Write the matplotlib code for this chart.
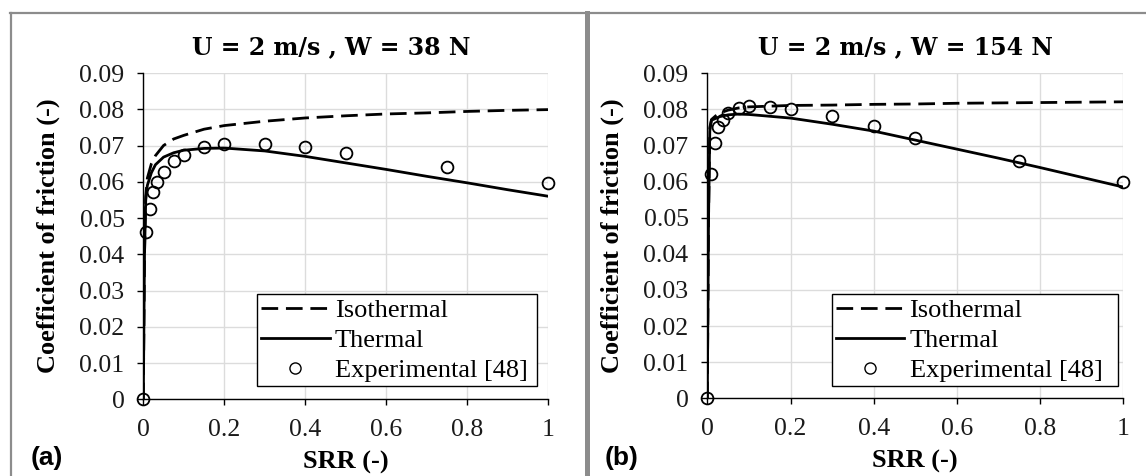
import matplotlib
matplotlib.use("Agg")
import matplotlib.pyplot as plt
from matplotlib.lines import Line2D

# ---------------- data ----------------
# Panel (a): U = 2 m/s, W = 38 N
a_curve_srr = [0, 0.003, 0.006, 0.01, 0.02, 0.03, 0.05, 0.075, 0.1, 0.15, 0.2,
               0.3, 0.4, 0.5, 0.6, 0.7, 0.8, 0.9, 1.0]
a_isothermal = [0, 0.040, 0.056, 0.061, 0.065, 0.0672, 0.0700, 0.0718, 0.0728,
                0.0745, 0.0755, 0.0767, 0.0776, 0.0782, 0.0787, 0.0790, 0.0794,
                0.0797, 0.0799]
a_thermal = [0, 0.040, 0.055, 0.059, 0.0625, 0.0647, 0.0668, 0.0680, 0.0687,
             0.0692, 0.0693, 0.0685, 0.0670, 0.0652, 0.0634, 0.0615, 0.0597,
             0.0578, 0.0560]
a_exp_srr = [0, 0.007, 0.016, 0.025, 0.034, 0.05, 0.075, 0.1, 0.15, 0.2, 0.3,
             0.4, 0.5, 0.75, 1.0]
a_exp_cof = [0, 0.0461, 0.0526, 0.0571, 0.0599, 0.0626, 0.0658, 0.0675, 0.0697,
             0.0705, 0.0703, 0.0696, 0.0680, 0.0641, 0.0597]

# Panel (b): U = 2 m/s, W = 154 N
b_curve_srr = [0, 0.003, 0.006, 0.01, 0.02, 0.03, 0.05, 0.075, 0.1, 0.15, 0.2,
               0.3, 0.4, 0.5, 0.6, 0.7, 0.8, 0.9, 1.0]
b_isothermal = [0, 0.050, 0.075, 0.0772, 0.0782, 0.0790, 0.0798, 0.0804, 0.0807,
                0.0809, 0.0811, 0.0812, 0.0814, 0.0815, 0.0817, 0.0818, 0.0819,
                0.0820, 0.0821]
b_thermal = [0, 0.050, 0.074, 0.0770, 0.0775, 0.0780, 0.0785, 0.0787, 0.0786,
             0.0781, 0.0776, 0.0759, 0.0740, 0.0715, 0.0690, 0.0665, 0.0639,
             0.0612, 0.0585]
b_exp_srr = [0, 0.009, 0.018, 0.026, 0.037, 0.05, 0.077, 0.1, 0.15, 0.2, 0.3,
             0.4, 0.5, 0.75, 1.0]
b_exp_cof = [0, 0.0621, 0.0708, 0.0752, 0.0771, 0.0789, 0.0803, 0.0809, 0.0808,
             0.0802, 0.0782, 0.0754, 0.0722, 0.0656, 0.0599]

titles = ["U = 2 m/s , W = 38 N", "U = 2 m/s , W = 154 N"]
panel_tags = ["(a)", "(b)"]
x_ticks = [0, 0.2, 0.4, 0.6, 0.8, 1.0]
x_ticklabels = ["0", "0.2", "0.4", "0.6", "0.8", "1"]
y_ticks = [0, 0.01, 0.02, 0.03, 0.04, 0.05, 0.06, 0.07, 0.08, 0.09]
y_ticklabels = ["0", "0.01", "0.02", "0.03", "0.04", "0.05", "0.06", "0.07",
                "0.08", "0.09"]
legend_labels = ["Isothermal", "Thermal", "Experimental [48]"]

# ---------------- figure ----------------
W, H = 1146, 476
fig = plt.figure(figsize=(W / 100, H / 100), dpi=100)

SERIF = "Liberation Serif"
FS_TICK = 18.5
FS_LAB = 19
FS_LEG = 19

def fx(px):
    return px / W

def fy(py):
    return 1 - py / H

axes_px = [(143.3, 73.0, 548.3, 399.3), (707.3, 73.3, 1123.3, 398.3)]
legend_px = [(0.281, 0.041, 0.692, 0.291), (0.299, 0.038, 0.688, 0.298)]
title_x = [331, 905]
title_y = 47
tag_x = [31, 605]

data = [
    (a_curve_srr, a_isothermal, a_thermal, a_exp_srr, a_exp_cof),
    (b_curve_srr, b_isothermal, b_thermal, b_exp_srr, b_exp_cof),
]

dash_pattern = (6.0, 2.8)

for i, (cs, iso, th, es, ec) in enumerate(data):
    x0, y0, x1, y1 = axes_px[i]
    ax = fig.add_axes([fx(x0), fy(y1), fx(x1) - fx(x0), (y1 - y0) / H])
    ax.set_xlim(0, 1)
    ax.set_ylim(0, 0.09)
    ax.grid(True, color="#dcdcdc", linewidth=1.0)
    ax.set_axisbelow(True)
    for s in ["top", "right"]:
        ax.spines[s].set_visible(False)
    for s in ["left", "bottom"]:
        ax.spines[s].set_color("black")
        ax.spines[s].set_linewidth(1.0)
    ax.set_xticks(x_ticks)
    ax.set_xticklabels(x_ticklabels, fontfamily=SERIF, fontsize=FS_TICK)
    ax.set_yticks(y_ticks)
    ax.set_yticklabels(y_ticklabels, fontfamily=SERIF, fontsize=FS_TICK)
    ax.tick_params(axis="both", direction="out", length=4.5, width=1.0,
                   color="black", labelcolor="#1a1a1a")
    ax.tick_params(axis="y", pad=9)
    ax.tick_params(axis="x", pad=10)

    ax.plot(cs, iso, color="black", linewidth=2.0, linestyle=(0, dash_pattern),
            zorder=3)
    ax.plot(cs, th, color="black", linewidth=2.0, zorder=3)
    ax.plot(es, ec, linestyle="none", marker="o", markersize=8.5,
            markerfacecolor="none", markeredgecolor="black",
            markeredgewidth=1.3, zorder=4, clip_on=False)

    ax.set_xlabel("SRR (-)", fontfamily=SERIF, fontweight="bold",
                  fontsize=FS_LAB, labelpad=7)
    ax.set_ylabel("Coefficient of friction (-)", fontfamily=SERIF,
                  fontweight="bold", fontsize=FS_LAB, labelpad=14)

    handles = [
        Line2D([], [], color="black", linewidth=2.0, linestyle=(0, dash_pattern)),
        Line2D([], [], color="black", linewidth=2.0),
        Line2D([], [], linestyle="none", marker="o", markersize=8,
               markerfacecolor="none", markeredgecolor="black",
               markeredgewidth=1.0),
    ]
    lx, ly, lw, lh = legend_px[i]
    leg = ax.legend(handles, legend_labels, loc="lower left",
                    bbox_to_anchor=(lx, ly, lw, lh), mode="expand",
                    prop={"family": SERIF, "size": FS_LEG}, frameon=True,
                    fancybox=False, edgecolor="black", framealpha=1,
                    handlelength=2.6, handletextpad=0.2, borderpad=0.15,
                    labelspacing=0.25, borderaxespad=0)
    leg.get_frame().set_linewidth(1.0)

    fig.text(fx(title_x[i]), fy(title_y), titles[i], ha="center", va="center",
             fontfamily="DejaVu Serif", fontweight="bold", fontsize=17)
    fig.text(fx(tag_x[i]), fy(458), panel_tags[i], ha="left", va="center",
             fontfamily="Liberation Sans", fontweight="bold", fontsize=19)

# panel frames (gray)
frame_col = "#8c8c8c"
fig.add_artist(Line2D([fx(11), fx(11)], [fy(12.5), 0], color=frame_col,
                      linewidth=1.6))
fig.add_artist(Line2D([fx(10), 1], [fy(12.5), fy(12.5)], color=frame_col,
                      linewidth=1.6))
fig.add_artist(Line2D([fx(587), fx(587)], [fy(12.5), 0], color=frame_col,
                      linewidth=3.6))

fig.savefig("out.png", dpi=100)
